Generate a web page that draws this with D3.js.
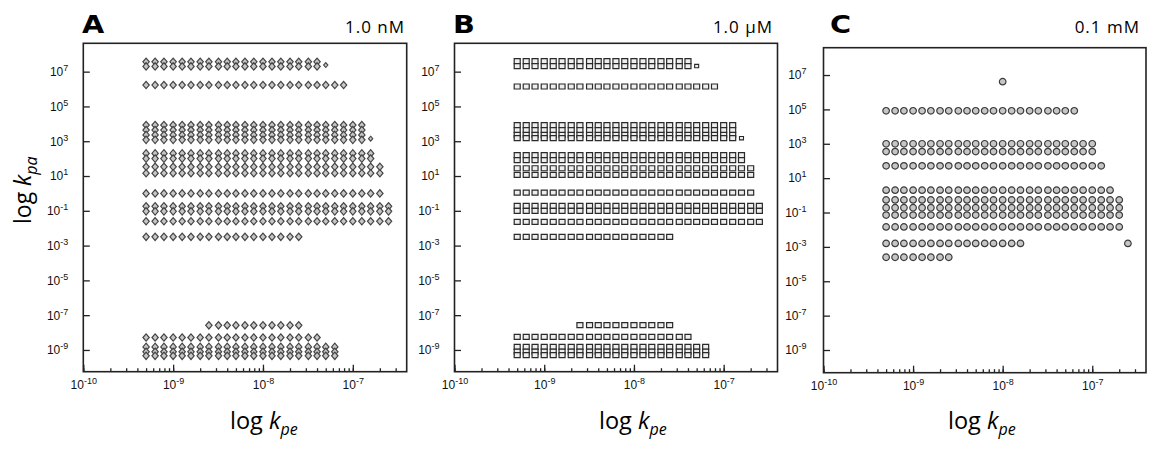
<!DOCTYPE html>
<html>
<head>
<meta charset="utf-8">
<script src="https://cdn.jsdelivr.net/npm/d3@7"></script>
<style>
  body { margin: 0; background: #fff; }
  svg { display: block; }
  .tick text { font-family: 'Liberation Sans', Arial, sans-serif; font-size: 12px; fill: #111; }
  .tick line { stroke: #222; stroke-width: 1.3; }
</style>
</head>
<body>
<script>
// k_pe grid shared by the three panels (tenth-decade steps)
const kpeGrid = [5.0e-10, 6.3e-10, 7.9e-10, 1.0e-9, 1.26e-9, 1.58e-9, 2.0e-9, 2.5e-9, 3.2e-9, 4.0e-9,
  5.0e-9, 6.3e-9, 7.9e-9, 1.0e-8, 1.26e-8, 1.58e-8, 2.0e-8, 2.5e-8, 3.2e-8, 4.0e-8,
  5.0e-8, 6.3e-8, 7.9e-8, 1.0e-7, 1.26e-7, 1.58e-7, 2.0e-7, 2.5e-7];

// rows: [k_pa, first grid index, last grid index]
const rowsA = [
  [3.7e7, 0, 19], [2.0e7, 0, 19],
  [1.7e6, 0, 22],
  [8.5e3, 0, 24], [4.4e3, 0, 24], [2.3e3, 0, 24], [1.2e3, 0, 24],
  [200, 0, 25], [100, 0, 25],
  [34, 0, 26], [14.5, 0, 26],
  [1.0, 0, 26],
  [0.18, 0, 27], [0.093, 0, 27],
  [0.025, 0, 27],
  [0.0032, 0, 17],
  [2.6e-8, 7, 17],
  [5.2e-9, 0, 19],
  [1.5e-9, 0, 21], [7.8e-10, 0, 21], [4.6e-10, 0, 21],
];
// small end-of-row markers: [k_pa, grid index]
const endsA = [[2.4e7, 20], [1.4e3, 25]];

const rowsB = [
  [4.0e7, 0, 19], [2.1e7, 0, 19],
  [1.4e6, 0, 22],
  [8.5e3, 0, 24], [4.4e3, 0, 24], [2.3e3, 0, 24], [1.5e3, 0, 24],
  [160, 0, 25], [83, 0, 25],
  [28, 0, 26], [11.5, 0, 26],
  [1.1, 0, 26],
  [0.19, 0, 27], [0.1, 0, 27],
  [0.023, 0, 27],
  [0.0032, 0, 17],
  [2.7e-8, 7, 17],
  [5.7e-9, 0, 19],
  [1.5e-9, 0, 21], [8.0e-10, 0, 21], [5.0e-10, 0, 21],
];
const endsB = [[2.1e7, 20], [1.5e3, 25]];

const rowsC = [
  [4.1e6, 13, 13],
  [8.3e4, 0, 21],
  [1.0e3, 0, 23], [3.5e2, 0, 23],
  [52, 0, 24],
  [2.0, 0, 25],
  [0.54, 0, 26], [0.19, 0, 26], [0.071, 0, 26],
  [0.0145, 0, 26],
  [1.6e-3, 0, 15], [1.6e-3, 27, 27],
  [2.5e-4, 0, 7],
];
const endsC = [];

const xTickExps = [-10, -9, -8, -7];
const yTickExps = [-9, -7, -5, -3, -1, 1, 3, 5, 7];
const concLabels = ['1.0 nM', '1.0 \u03bcM', '0.1 mM'];
const panelLetters = ['A', 'B', 'C'];

const width = 1155;
const height = 449;

const svg = d3.select('body').append('svg')
  .attr('width', width)
  .attr('height', height);

// marker shapes
const diamond = {
  draw(ctx, size) {
    const a = Math.sqrt(size / 2) * 0.93;
    const b = Math.sqrt(size / 2) * 1.07;
    ctx.moveTo(0, -b); ctx.lineTo(a, 0); ctx.lineTo(0, b); ctx.lineTo(-a, 0); ctx.closePath();
  },
};
const box = {
  draw(ctx, size) {
    const w = Math.sqrt(size * 1.2);
    const h = size / w;
    ctx.rect(-w / 2, -h / 2, w, h);
  },
};

const panels = [
  { rows: rowsA, ends: endsA, left: 83.3, right: 406.7, top: 43.3, bottom: 371.7, yLo: -10.25, yHi: 8.63,
    shape: diamond, size: 23.5, fill: '#c6c6c6', stroke: '#444', letterX: 82, concX: 405, titleX: 230, pad: 15 },
  { rows: rowsB, ends: endsB, left: 454.5, right: 777.5, top: 43.3, bottom: 371.7, yLo: -10.25, yHi: 8.63,
    shape: box, size: 30, fill: '#eeeeee', stroke: '#2a2a2a', letterX: 453, concX: 773, titleX: 599, pad: 15 },
  { rows: rowsC, ends: endsC, left: 823.5, right: 1146, top: 47.7, bottom: 372.7, yLo: -10.32, yHi: 8.59,
    shape: d3.symbolCircle, size: 34, fill: '#c6c6c6', stroke: '#3c3c3c', letterX: 830, concX: 1140, titleX: 948, pad: 17 },
];

function superLabels(g) {
  g.selectAll('.tick text').each(function (d) {
    const t = d3.select(this);
    t.text(null);
    t.append('tspan').text('10');
    t.append('tspan').attr('dy', -5).attr('font-size', 9).text(Math.round(Math.log10(d)));
  });
}

panels.forEach((p, i) => {
  const x = d3.scaleLog()
    .domain([1e-10, 10 ** -6.4])
    .range([p.left, p.right]);
  const y = d3.scaleLog()
    .domain([10 ** p.yLo, 10 ** p.yHi])
    .range([p.bottom, p.top]);

  const points = p.rows.flatMap(([kpa, a, b]) => kpeGrid.slice(a, b + 1).map(kpe => ({ kpe, kpa })));
  const ends = p.ends.map(([kpa, idx]) => ({ kpe: kpeGrid[idx], kpa }));

  const g = svg.append('g');

  g.selectAll('.pt')
    .data(points)
    .enter().append('path')
    .attr('class', 'pt')
    .attr('transform', d => `translate(${x(d.kpe)},${y(d.kpa)})`)
    .attr('d', d3.symbol().type(p.shape).size(p.size))
    .attr('fill', p.fill)
    .attr('stroke', p.stroke)
    .attr('stroke-width', 1.2);

  g.selectAll('.end')
    .data(ends)
    .enter().append('path')
    .attr('class', 'end')
    .attr('transform', d => `translate(${x(d.kpe)},${y(d.kpa)})`)
    .attr('d', d3.symbol().type(p.shape).size(p.size * 0.45))
    .attr('fill', p.fill)
    .attr('stroke', p.stroke)
    .attr('stroke-width', 1.1);

  // minor x ticks
  g.append('g')
    .attr('transform', `translate(0,${p.bottom})`)
    .call(d3.axisBottom(x).tickValues(x.ticks()).tickSizeInner(-3.5).tickSizeOuter(0).tickFormat(''))
    .call(a => a.select('.domain').remove());

  // major x ticks
  g.append('g')
    .attr('transform', `translate(0,${p.bottom})`)
    .call(d3.axisBottom(x).tickValues(xTickExps.map(e => 10 ** e)).tickSizeInner(-7).tickSizeOuter(0).tickPadding(9))
    .call(a => a.select('.domain').remove())
    .call(superLabels);

  g.append('g')
    .attr('transform', `translate(${p.left},0)`)
    .call(d3.axisLeft(y).tickValues(yTickExps.map(e => 10 ** e)).tickSizeInner(-6.5).tickSizeOuter(0).tickPadding(p.pad))
    .call(a => a.select('.domain').remove())
    .call(superLabels);

  g.append('rect')
    .attr('x', p.left)
    .attr('y', p.top)
    .attr('width', p.right - p.left)
    .attr('height', p.bottom - p.top)
    .attr('fill', 'none')
    .attr('stroke', '#222')
    .attr('stroke-width', 1.6);

  g.append('text')
    .attr('transform', `translate(${p.letterX},33) scale(1.15,1)`)
    .attr('font-family', "'DejaVu Sans', sans-serif")
    .attr('font-weight', 'bold')
    .attr('font-size', 25)
    .text(panelLetters[i]);

  g.append('text')
    .attr('x', p.concX)
    .attr('y', 33)
    .attr('text-anchor', 'end')
    .attr('font-family', "'Open Sans', sans-serif")
    .attr('font-size', 17)
    .attr('letter-spacing', 1)
    .text(concLabels[i]);

  const xt = g.append('text')
    .attr('x', p.titleX)
    .attr('y', 429)
    .attr('font-family', "'Open Sans', sans-serif")
    .attr('font-size', 23.5);
  xt.append('tspan').text('log ');
  xt.append('tspan').attr('font-style', 'italic').text('k');
  xt.append('tspan').attr('font-style', 'italic').attr('font-size', 16).attr('dy', 6).text('pe');
});

const yt = svg.append('text')
  .attr('transform', 'translate(31,224) rotate(-90)')
  .attr('font-family', "'Open Sans', sans-serif")
  .attr('font-size', 23);
yt.append('tspan').text('log ');
yt.append('tspan').attr('font-style', 'italic').text('k');
yt.append('tspan').attr('font-style', 'italic').attr('font-size', 16).attr('dy', 6).text('pa');
</script>
</body>
</html>
